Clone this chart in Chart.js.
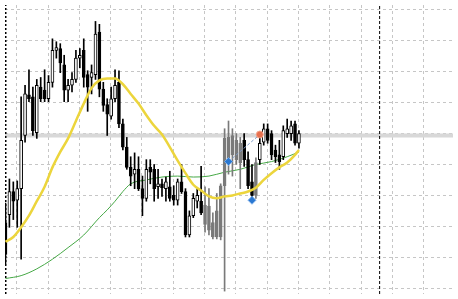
<!DOCTYPE html>
<html lang="en">
<head>
<meta charset="UTF-8">
<title>Velas</title>
<script src="https://cdn.jsdelivr.net/npm/chart.js@4.4.1/dist/chart.umd.min.js"></script>
<style>
  html, body { margin: 0; padding: 0; background: #ffffff; }
  #wrap { width: 458px; height: 299px; position: relative; }
</style>
</head>
<body>
<div id="wrap"><canvas id="chart"></canvas></div>
<script>
// velas, una por indice 0..75
const opens = [75,83,107,98,110,165,207,205,168,215,
  212,203,220,253,255,238,212,217,223,245,
  253,228,225,228,272,213,197,185,203,220,
  177,153,132,125,130,110,100,132,130,112,
  115,110,112,103,98,117,107,62,82,97,
  97,93,92,75,60,60,113,163,165,140,
  157,160,140,117,103,140,158,172,167,150,
  145,143,167,167,177,157];
const highs = [95,120,117,118,205,217,233,215,223,225,
  233,227,265,262,260,248,223,230,253,255,
  265,232,238,283,280,220,203,215,233,232,
  182,163,143,147,143,123,140,140,135,130,
  120,122,128,113,120,135,110,87,105,110,
  133,112,110,85,105,115,172,180,172,167,
  163,167,148,135,142,167,177,177,170,155,
  160,175,182,180,180,170];
const lows = [32,70,78,70,37,158,200,165,162,200,
  200,200,215,245,230,200,200,210,220,235,
  215,190,208,223,205,190,165,182,200,173,
  150,130,113,110,108,82,97,115,97,100,
  102,97,97,93,93,105,60,60,80,90,
  83,65,62,58,58,57,4,125,123,135,
  110,133,110,100,100,135,155,157,140,137,
  130,140,163,160,155,152];
const closes = [42,107,97,110,160,208,203,170,217,203,
  203,220,253,256,240,212,217,223,245,248,
  225,215,230,270,213,196,187,203,217,177,
  153,132,123,130,110,100,130,127,110,115,
  111,117,100,98,117,107,62,82,100,103,
  85,73,67,60,87,113,162,140,145,160,
  137,140,113,103,137,157,172,160,145,143,
  138,170,172,175,157,167];
// velas resaltadas en gris
const grayBars = [51,52,53,54,55,56,57,58,59,60,64];

// media amarilla
const maSlowIdx = [0,2,4,6,8,10,12,14,16,18,20,22,24,26,28,30,32,34,36,38,40,42,44,46,48,50,52,54,56,58,60,62,64,66,68,70,72,74,75];
const maSlow = [55,60,70,82,97,112,132,148,162,180,198,214,222,224,224,218,208,198,186,175,166,153,139,126,114,108,102,100,102,103,105,107,111,119,126,132,137,145,150];
// media verde
const maLongIdx = [0,4,8,12,16,20,24,26,28,30,32,36,40,44,48,52,56,60,64,68,72,75];
const maLong = [17,20,27,37,49,62,80,88,97,107,115,119,122,123,122,123,127,130,135,138,143,148];

// nivel horizontal y separador
const levelPrice = 165;
const separatorAt = 95.625;

// marcas
const buyMarks = [{ x: 57, y: 138 }, { x: 63, y: 98 }];
const sellMarks = [{ x: 65, y: 166 }];

const xMin = -0.125, xMax = 114.375, yMin = 1, yMax = 300;
const vGrid = [];
for (let v = 2.875; v < xMax; v += 8) vGrid.push(v);
const hGrid = [7, 39, 71, 103, 135, 167, 199, 231, 263, 295];

const colorOf = (i, up) => grayBars.includes(i) ? '#7a7a7a' : (up ? '#ffffff' : '#000000');
const edgeOf = i => grayBars.includes(i) ? '#7a7a7a' : '#000000';

const wicks = lows.map((l, i) => ({ x: i, y: [l, highs[i]] }));
const bodies = opens.map((o, i) => ({ x: i, y: [o, closes[i]] }));

const ctx = document.getElementById('chart').getContext('2d');
new Chart(ctx, {
  type: 'line',
  data: {
    datasets: [
      { type: 'line', data: sellMarks, pointStyle: 'circle', pointRadius: 3.5,
        pointBackgroundColor: '#e8704f', pointBorderColor: '#f3a68c', pointBorderWidth: 1, showLine: false, order: 0 },
      { type: 'line', data: buyMarks, pointStyle: 'rectRot', pointRadius: 4,
        pointBackgroundColor: '#2a78d2', pointBorderColor: '#7fb0ea', pointBorderWidth: 1, showLine: false, order: 0 },
      { type: 'line', data: [buyMarks[0], sellMarks[0]], borderColor: '#7d9bc8', borderWidth: 1,
        borderDash: [3, 2], pointRadius: 0, order: 1 },
      { type: 'line', data: maSlowIdx.map((k, i) => ({ x: k, y: maSlow[i] })), borderColor: '#ecd53c',
        borderWidth: 2.5, pointRadius: 0, cubicInterpolationMode: 'monotone', order: 2 },
      { type: 'bar', data: bodies, grouped: false, barThickness: 3, borderWidth: 1, borderSkipped: false,
        backgroundColor: opens.map((o, i) => colorOf(i, closes[i] > o)),
        borderColor: opens.map((o, i) => edgeOf(i)), order: 3 },
      { type: 'bar', data: wicks, grouped: false, barThickness: 1, borderWidth: 0,
        backgroundColor: opens.map((o, i) => edgeOf(i)), order: 4 },
      { type: 'line', data: maLongIdx.map((k, i) => ({ x: k, y: maLong[i] })), borderColor: '#45a845',
        borderWidth: 1, pointRadius: 0, cubicInterpolationMode: 'monotone', order: 5 },
      { type: 'line', data: [{ x: separatorAt, y: yMin }, { x: separatorAt, y: yMax }], borderColor: '#000000',
        borderWidth: 1, borderDash: [3, 2], pointRadius: 0, order: 6 },
      { type: 'line', data: [{ x: 0, y: yMin }, { x: 0, y: yMax }], borderColor: '#000000',
        borderWidth: 2, borderDash: [2, 2], pointRadius: 0, order: 6 },
      { type: 'line', data: [{ x: xMin, y: levelPrice }, { x: xMax, y: levelPrice }], borderColor: '#d8d8d8',
        borderWidth: 4, pointRadius: 0, order: 10 }
    ]
  },
  options: {
    responsive: true,
    maintainAspectRatio: false,
    animation: false,
    layout: { padding: 0 },
    plugins: { legend: { display: false }, tooltip: { enabled: false } },
    scales: {
      x: {
        type: 'linear', min: xMin, max: xMax, offset: false,
        afterBuildTicks: s => { s.ticks = vGrid.map(v => ({ value: v })); },
        ticks: { display: false },
        grid: { color: '#c6c6c6', drawTicks: false, offset: false },
        border: { display: false, dash: [3, 3] }
      },
      y: {
        type: 'linear', min: yMin, max: yMax,
        afterBuildTicks: s => { s.ticks = hGrid.map(v => ({ value: v })); },
        ticks: { display: false },
        grid: { color: '#c6c6c6', drawTicks: false },
        border: { display: false, dash: [3, 3] }
      }
    }
  }
});
</script>
</body>
</html>
